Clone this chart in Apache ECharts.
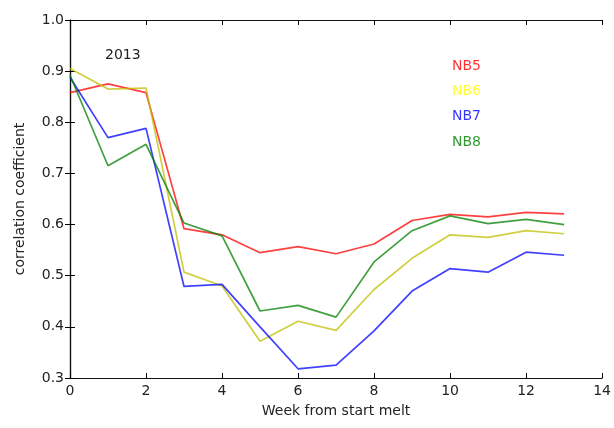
<!DOCTYPE html>
<html>
<head>
<meta charset="utf-8">
<script src="https://cdn.jsdelivr.net/npm/echarts@6/dist/echarts.min.js"></script>
<style>
html,body{margin:0;padding:0;background:#fff;}
#chart{width:614px;height:428px;}
</style>
</head>
<body>
<div id="chart"></div>
<script>
var weeks = [0,1,2,3,4,5,6,7,8,9,10,11,12,13];
var nb5 = [0.858, 0.875, 0.858, 0.592, 0.580, 0.545, 0.557, 0.543, 0.562, 0.608, 0.620, 0.615, 0.624, 0.621];
var nb6 = [0.905, 0.865, 0.867, 0.507, 0.480, 0.372, 0.411, 0.393, 0.473, 0.534, 0.580, 0.575, 0.588, 0.582];
var nb7 = [0.888, 0.770, 0.788, 0.479, 0.483, 0.400, 0.318, 0.325, 0.392, 0.470, 0.514, 0.507, 0.546, 0.540];
var nb8 = [0.892, 0.715, 0.757, 0.603, 0.578, 0.431, 0.442, 0.419, 0.527, 0.588, 0.617, 0.602, 0.610, 0.600];
var seriesNames = ['NB5','NB6','NB7','NB8'];
var lineColors = ['#ff0000','#bfbf00','#0000ff','#008000'];
var labelColors = ['#ff0000','#ffff00','#0000ff','#008000'];
var yearLabel = '2013';

var FONT = 'DejaVu Sans';
function pairs(arr){ return weeks.map(function(w,i){ return [w, arr[i]]; }); }
var allData = [nb5, nb6, nb7, nb8];

var chart = echarts.init(document.getElementById('chart'), null, {renderer:'canvas'});
var axisLineStyle = {color:'#111', width:1.2};
var option = {
  animation:false,
  backgroundColor:'#fff',
  grid:{left:70, right:10, top:20, bottom:50},
  xAxis:[{
    type:'value', min:0, max:14, interval:2, position:'bottom',
    name:'Week from start melt', nameLocation:'middle', nameGap:26,
    nameTextStyle:{fontFamily:FONT, fontSize:14, color:'#222'},
    axisLine:{show:true, lineStyle:axisLineStyle},
    axisTick:{show:true, inside:true, length:5, lineStyle:{color:'#000'}},
    axisLabel:{fontFamily:FONT, fontSize:14, color:'#222', margin:6},
    splitLine:{show:false}
  },{
    type:'value', min:0, max:14, interval:2, position:'top',
    axisLine:{show:true, lineStyle:axisLineStyle},
    axisTick:{show:true, inside:true, length:5, lineStyle:{color:'#000'}},
    axisLabel:{show:false}, splitLine:{show:false}
  }],
  yAxis:[{
    type:'value', min:0.3, max:1.0, interval:0.1, position:'left',
    name:'correlation coefficient', nameLocation:'middle', nameGap:43,
    nameTextStyle:{fontFamily:FONT, fontSize:14, color:'#222'},
    axisLine:{show:true, lineStyle:axisLineStyle},
    axisTick:{show:true, inside:true, length:5, lineStyle:{color:'#000'}},
    axisLabel:{fontFamily:FONT, fontSize:14, color:'#222', margin:6,
      formatter:function(v){ return v.toFixed(1); }},
    splitLine:{show:false}
  },{
    type:'value', min:0.3, max:1.0, interval:0.1, position:'right',
    axisLine:{show:true, lineStyle:axisLineStyle},
    axisTick:{show:true, inside:true, length:5, lineStyle:{color:'#000'}},
    axisLabel:{show:false}, splitLine:{show:false}
  }],
  series: seriesNames.map(function(n,i){
    return {
      name:n, type:'line', xAxisIndex:0, yAxisIndex:0,
      data:pairs(allData[i]), showSymbol:false, symbol:'none',
      lineStyle:{color:lineColors[i], width:1.7, opacity:0.75},
      itemStyle:{color:lineColors[i]}
    };
  }),
  graphic: [{
    type:'text', left:105, top:48,
    style:{text:yearLabel, font:'14px "DejaVu Sans"', fill:'#222'}
  }].concat(seriesNames.map(function(n,i){
    return {type:'text', left:452, top:59 + i*25.3,
      style:{text:n, font:'14px "DejaVu Sans"', fill:labelColors[i], opacity:0.8}};
  }))
};
chart.setOption(option);
</script>
</body>
</html>
